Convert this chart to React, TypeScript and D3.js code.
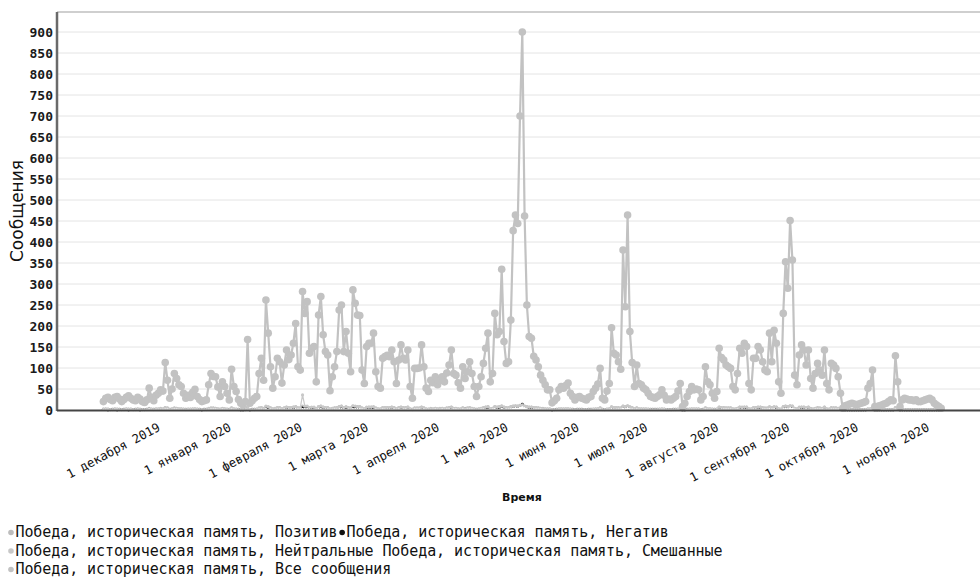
import React from 'react';
import * as d3 from 'd3';

// Daily values, 8 Nov 2019 .. 8 Nov 2020
const allMessages: number[] = [
  // Nov 8-30 2019
  20, 28, 30, 25, 22, 30, 32, 26, 20, 25, 30, 34, 28, 24, 22, 30, 26, 20, 18, 24, 52, 30, 22,
  // Dec
  35, 40, 48, 45, 113, 71, 28, 50, 87, 75, 60, 56, 40, 28, 35, 30, 42, 49, 32, 25, 20, 22, 24, 60, 87, 80, 79, 55, 32, 67, 56,
  // Jan 2020
  40, 24, 97, 56, 44, 25, 16, 12, 20, 168, 16, 22, 28, 32, 87, 123, 71, 262, 183, 103, 52, 79, 123, 115, 64, 107, 143, 120, 131, 159, 206,
  // Feb
  103, 95, 282, 230, 258, 135, 147, 151, 67, 226, 270, 179, 139, 131, 46, 79, 103, 139, 238, 250, 139, 187, 135, 91, 286, 254, 226, 225, 95,
  // Mar
  63, 151, 159, 159, 183, 91, 56, 52, 123, 127, 130, 127, 143, 115, 63, 119, 155, 123, 119, 143, 56, 28, 99, 99, 100, 155, 103, 52, 44, 71, 65,
  // Apr
  79, 60, 70, 79, 67, 88, 107, 143, 87, 83, 65, 52, 103, 75, 91, 115, 87, 56, 32, 56, 79, 111, 147, 183, 67, 87, 230, 179, 187, 335,
  // May
  163, 111, 115, 214, 427, 464, 444, 700, 900, 462, 250, 175, 171, 128, 119, 103, 83, 71, 60, 48, 48, 17, 22, 28, 48, 56, 52, 58, 64, 40, 32,
  // Jun
  24, 30, 32, 28, 26, 24, 30, 32, 44, 52, 62, 99, 28, 24, 45, 63, 196, 135, 131, 115, 97, 381, 246, 464, 187, 113, 56, 107, 63, 60,
  // Jul
  52, 48, 40, 32, 30, 28, 32, 36, 48, 35, 24, 26, 24, 28, 32, 45, 63, 8, 16, 32, 44, 56, 48, 50, 48, 24, 32, 103, 67, 60, 40,
  // Aug
  28, 44, 147, 125, 119, 107, 103, 99, 56, 48, 87, 147, 135, 159, 151, 63, 48, 123, 123, 151, 143, 115, 95, 91, 183, 115, 190, 159, 67, 40, 230,
  // Sep
  353, 290, 451, 357, 83, 60, 131, 155, 143, 107, 143, 75, 52, 87, 111, 95, 83, 143, 63, 48, 111, 107, 99, 79, 40, 4, 10, 12, 14, 16,
  // Oct
  14, 12, 14, 16, 18, 20, 52, 63, 95, 8, 8, 10, 12, 14, 16, 20, 24, 22, 129, 67, 8, 24, 28, 26, 24, 24, 22, 24, 20, 20, 22,
  // Nov 1-8
  24, 26, 28, 24, 16, 12, 8, 4,
];

const positive: number[] = [
  2, 3, 2, 1, 2, 3, 2, 2, 1, 2, 3, 2, 2, 1, 2, 3, 2, 1, 1, 2, 4, 2, 2,
  3, 3, 4, 3, 6, 5, 2, 3, 5, 4, 3, 3, 2, 2, 2, 2, 3, 3, 2, 2, 1, 2, 2, 4, 5, 5, 4, 3, 2, 4, 3,
  2, 2, 5, 3, 2, 2, 1, 1, 1, 6, 1, 2, 2, 2, 5, 6, 4, 8, 7, 5, 3, 4, 6, 6, 3, 5, 7, 6, 6, 7, 8,
  5, 5, 9, 8, 8, 6, 6, 6, 4, 8, 9, 7, 6, 6, 3, 4, 5, 6, 8, 9, 6, 7, 6, 5, 9, 8, 8, 8, 5,
  3, 6, 7, 7, 7, 5, 3, 3, 6, 6, 6, 6, 7, 6, 3, 6, 7, 6, 6, 7, 3, 2, 5, 5, 5, 7, 5, 3, 2, 4, 3,
  4, 3, 4, 4, 3, 5, 6, 7, 4, 4, 3, 3, 5, 4, 5, 6, 4, 3, 2, 3, 4, 6, 7, 8, 3, 4, 8, 7, 8, 9,
  7, 6, 6, 8, 9, 10, 9, 11, 12, 9, 8, 7, 7, 6, 6, 5, 4, 4, 3, 3, 3, 1, 1, 2, 3, 3, 3, 3, 3, 2, 2,
  1, 2, 2, 2, 1, 1, 2, 2, 2, 3, 3, 5, 2, 1, 2, 3, 7, 6, 6, 6, 5, 9, 8, 10, 7, 6, 3, 5, 3, 3,
  3, 3, 2, 2, 2, 2, 2, 2, 3, 2, 1, 1, 1, 2, 2, 2, 3, 0, 1, 2, 2, 3, 3, 3, 3, 1, 2, 5, 3, 3, 2,
  2, 2, 7, 6, 6, 5, 5, 5, 3, 3, 4, 7, 7, 7, 7, 3, 3, 6, 6, 7, 7, 6, 5, 5, 7, 6, 7, 7, 3, 2, 8,
  9, 8, 10, 9, 4, 3, 7, 7, 7, 5, 7, 4, 3, 4, 6, 5, 4, 7, 3, 2, 6, 5, 5, 4, 2, 0, 1, 1, 1, 1,
  1, 1, 1, 1, 1, 1, 3, 3, 5, 0, 0, 1, 1, 1, 1, 1, 1, 1, 6, 3, 0, 1, 1, 1, 1, 1, 1, 1, 1, 1, 1,
  1, 1, 1, 1, 1, 1, 0, 0,
];

const negative: number[] = [
  1, 1, 0, 1, 1, 1, 0, 1, 1, 1, 1, 0, 1, 1, 1, 1, 0, 1, 1, 1, 2, 1, 1,
  1, 1, 1, 1, 3, 2, 1, 1, 2, 2, 1, 1, 1, 1, 1, 1, 1, 1, 1, 1, 0, 1, 1, 1, 2, 2, 2, 1, 1, 1, 1,
  1, 1, 2, 1, 1, 1, 0, 0, 1, 3, 0, 1, 1, 1, 2, 2, 1, 4, 3, 2, 1, 1, 2, 2, 1, 2, 3, 2, 2, 3, 4,
  2, 2, 5, 4, 4, 2, 3, 3, 1, 4, 4, 3, 2, 2, 1, 1, 2, 2, 4, 4, 2, 3, 2, 2, 5, 4, 4, 4, 2,
  1, 3, 3, 3, 4, 2, 1, 1, 2, 2, 2, 2, 3, 2, 1, 2, 3, 2, 2, 3, 1, 1, 2, 2, 2, 3, 2, 1, 1, 1, 1,
  2, 1, 1, 2, 1, 2, 2, 3, 2, 2, 1, 1, 2, 2, 2, 2, 2, 1, 1, 1, 2, 2, 3, 3, 1, 2, 4, 3, 3, 6,
  3, 2, 2, 4, 7, 8, 8, 10, 14, 8, 5, 3, 3, 2, 2, 2, 2, 1, 1, 1, 1, 0, 1, 1, 1, 1, 1, 1, 1, 1, 1,
  1, 1, 1, 1, 1, 1, 1, 1, 1, 1, 1, 2, 1, 1, 1, 1, 4, 3, 3, 2, 2, 6, 4, 8, 3, 2, 1, 2, 1, 1,
  1, 1, 1, 1, 1, 1, 1, 1, 1, 1, 1, 1, 1, 1, 1, 1, 1, 0, 0, 1, 1, 1, 1, 1, 1, 1, 1, 2, 1, 1, 1,
  1, 1, 3, 2, 2, 2, 2, 2, 1, 1, 2, 3, 2, 3, 3, 1, 1, 2, 2, 3, 3, 2, 2, 2, 3, 2, 3, 3, 1, 1, 4,
  6, 5, 8, 6, 2, 1, 2, 3, 3, 2, 3, 1, 1, 2, 2, 2, 2, 3, 1, 1, 2, 2, 2, 2, 1, 0, 0, 0, 0, 0,
  0, 0, 0, 0, 0, 0, 1, 1, 2, 0, 0, 0, 0, 0, 0, 0, 0, 0, 2, 1, 0, 0, 0, 0, 0, 0, 0, 0, 0, 0, 0,
  0, 0, 0, 0, 0, 0, 0, 0,
];

const neutral: number[] = [
  2, 2, 2, 1, 1, 2, 2, 1, 1, 1, 2, 2, 2, 1, 1, 2, 1, 1, 1, 1, 3, 2, 1,
  2, 2, 3, 2, 6, 4, 1, 3, 4, 4, 3, 3, 2, 1, 2, 2, 2, 3, 2, 1, 1, 1, 1, 3, 4, 4, 4, 3, 2, 3, 3,
  2, 1, 5, 3, 2, 1, 1, 1, 1, 7, 1, 1, 1, 2, 4, 6, 3, 9, 8, 5, 3, 4, 6, 5, 3, 5, 7, 6, 6, 7, 8,
  5, 5, 36, 9, 9, 6, 7, 7, 3, 8, 9, 7, 6, 6, 2, 4, 5, 6, 8, 9, 6, 8, 6, 4, 10, 9, 8, 8, 4,
  3, 7, 7, 7, 8, 4, 3, 2, 5, 6, 6, 6, 7, 5, 3, 5, 7, 6, 5, 7, 3, 1, 4, 4, 4, 7, 5, 2, 2, 3, 3,
  4, 3, 3, 4, 3, 4, 5, 7, 4, 4, 3, 2, 5, 3, 4, 5, 4, 3, 1, 3, 4, 5, 7, 8, 3, 4, 8, 7, 8, 10,
  7, 5, 5, 8, 9, 10, 9, 11, 12, 9, 8, 7, 7, 6, 5, 5, 4, 3, 3, 2, 2, 1, 1, 1, 2, 3, 2, 3, 3, 2, 1,
  1, 1, 1, 1, 1, 1, 1, 1, 2, 2, 3, 5, 1, 1, 2, 3, 8, 6, 6, 5, 4, 9, 8, 10, 8, 5, 3, 5, 3, 3,
  2, 2, 2, 1, 1, 1, 1, 2, 2, 2, 1, 1, 1, 1, 1, 2, 3, 0, 1, 1, 2, 3, 2, 2, 2, 1, 1, 5, 3, 3, 2,
  1, 2, 7, 6, 5, 5, 5, 5, 3, 2, 4, 7, 6, 7, 7, 3, 2, 6, 6, 7, 7, 5, 4, 4, 8, 5, 8, 7, 3, 2, 8,
  9, 8, 10, 9, 4, 3, 6, 7, 7, 5, 7, 3, 2, 4, 5, 4, 4, 7, 3, 2, 5, 5, 5, 4, 2, 0, 0, 1, 1, 1,
  1, 1, 1, 1, 1, 1, 2, 3, 4, 0, 0, 0, 1, 1, 1, 1, 1, 1, 6, 3, 0, 1, 1, 1, 1, 1, 1, 1, 1, 1, 1,
  1, 1, 1, 1, 1, 1, 0, 0,
];

const mixed: number[] = [
  0, 0, 0, 0, 0, 0, 0, 0, 0, 0, 0, 0, 0, 0, 0, 0, 0, 0, 0, 0, 1, 0, 0,
  0, 0, 0, 0, 1, 1, 0, 0, 1, 1, 0, 0, 0, 0, 0, 0, 0, 0, 0, 0, 0, 0, 0, 0, 1, 1, 1, 0, 0, 1, 0,
  0, 0, 1, 0, 0, 0, 0, 0, 0, 1, 0, 0, 0, 0, 1, 1, 0, 2, 1, 1, 0, 0, 1, 1, 0, 1, 1, 1, 1, 1, 2,
  1, 1, 2, 2, 2, 1, 1, 1, 0, 2, 2, 1, 1, 1, 0, 0, 1, 1, 2, 2, 1, 1, 1, 0, 2, 2, 2, 2, 1,
  0, 1, 1, 1, 1, 1, 0, 0, 1, 1, 1, 1, 1, 1, 0, 1, 1, 1, 1, 1, 0, 0, 1, 1, 1, 1, 1, 0, 0, 0, 0,
  1, 0, 0, 1, 0, 1, 1, 1, 1, 1, 0, 0, 1, 0, 1, 1, 1, 0, 0, 0, 1, 1, 1, 1, 0, 1, 2, 1, 1, 3,
  1, 1, 1, 2, 3, 4, 3, 5, 6, 4, 2, 1, 1, 1, 1, 1, 1, 0, 0, 0, 0, 0, 0, 0, 0, 0, 0, 0, 0, 0, 0,
  0, 0, 0, 0, 0, 0, 0, 0, 0, 0, 0, 1, 0, 0, 0, 0, 2, 1, 1, 1, 1, 3, 2, 4, 2, 1, 0, 1, 0, 0,
  0, 0, 0, 0, 0, 0, 0, 0, 0, 0, 0, 0, 0, 0, 0, 0, 0, 0, 0, 0, 0, 0, 0, 0, 0, 0, 0, 1, 0, 0, 0,
  0, 0, 1, 1, 1, 1, 1, 1, 0, 0, 1, 1, 1, 1, 1, 0, 0, 1, 1, 1, 1, 1, 1, 1, 2, 1, 2, 1, 0, 0, 2,
  3, 2, 4, 3, 1, 0, 1, 1, 1, 1, 1, 0, 0, 1, 1, 1, 1, 1, 0, 0, 1, 1, 1, 1, 0, 0, 0, 0, 0, 0,
  0, 0, 0, 0, 0, 0, 0, 0, 1, 0, 0, 0, 0, 0, 0, 0, 0, 0, 1, 0, 0, 0, 0, 0, 0, 0, 0, 0, 0, 0, 0,
  0, 0, 0, 0, 0, 0, 0, 0,
];

const monthTickLabels: string[] = [
  '1 декабря 2019', '1 января 2020', '1 февраля 2020', '1 марта 2020',
  '1 апреля 2020', '1 мая 2020', '1 июня 2020', '1 июля 2020',
  '1 августа 2020', '1 сентября 2020', '1 октября 2020', '1 ноября 2020',
];

const yTickValues: number[] = [0, 50, 100, 150, 200, 250, 300, 350, 400, 450, 500, 550, 600, 650, 700, 750, 800, 850, 900];

const seriesNames: string[] = [
  'Победа, историческая память, Позитив',
  'Победа, историческая память, Негатив',
  'Победа, историческая память, Нейтральные',
  'Победа, историческая память, Смешанные',
  'Победа, историческая память, Все сообщения',
];

const START = new Date(2019, 10, 8);
const FIRST_TICK = new Date(2019, 11, 1);

const W = 980, H = 580;
const PL = 57, PR = 980, PT = 12, PB = 410;
const MONO = '"DejaVu Sans Mono", monospace';
const SANS = '"DejaVu Sans", sans-serif';

export default function App() {
  const dates = allMessages.map((_, i) => d3.timeDay.offset(START, i));
  const x = d3.scaleTime().domain([dates[0], dates[dates.length - 1]]).range([103.4, 941.2]);
  const y = d3.scaleLinear().domain([0, 900]).range([PB, 32]);
  const tickDates = monthTickLabels.map((_, i) => d3.timeMonth.offset(FIRST_TICK, i));

  const lineGen = d3.line<number>().x((_, i) => x(dates[i])).y((d) => y(d));

  const series = [
    { name: seriesNames[0], values: positive, color: '#bdbdbd', r: 1.6, w: 1.2 },
    { name: seriesNames[1], values: negative, color: '#111111', r: 1.4, w: 1.2 },
    { name: seriesNames[2], values: neutral, color: '#c8c8c8', r: 1.6, w: 1.2 },
    { name: seriesNames[3], values: mixed, color: '#ffffff', r: 1.2, w: 0.8 },
    { name: seriesNames[4], values: allMessages, color: '#c2c2c2', r: 3.8, w: 2.2 },
  ];

  const legendFont = 15;
  const charW = 8.95;
  const legendRows = [
    [{ c: series[0].color, t: seriesNames[0] }, { c: series[1].color, t: seriesNames[1] }],
    [{ c: series[2].color, t: seriesNames[2] }, { c: series[3].color, t: seriesNames[3] }],
    [{ c: series[4].color, t: seriesNames[4] }],
  ];
  const legendBase = [537, 555.5, 574];

  return (
    <svg width={W} height={H} style={{ position: 'absolute', left: 0, top: 0, background: '#fff' }}>
      {/* grid */}
      {yTickValues.filter((v) => v > 0).map((v) => (
        <line key={'g' + v} x1={PL} x2={PR} y1={y(v)} y2={y(v)} stroke="#e4e4e4" strokeWidth={1} />
      ))}
      <line x1={PL} x2={PR} y1={PT} y2={PT} stroke="#cfcfcf" strokeWidth={2} />

      {/* series */}
      {series.map((s, si) => (
        <g key={'s' + si}>
          <path d={lineGen(s.values) || ''} fill="none" stroke={s.color} strokeWidth={s.w} strokeLinejoin="round" />
          {s.values.map((v, i) => (
            <circle key={i} cx={x(dates[i])} cy={y(v)} r={s.r} fill={s.color} />
          ))}
        </g>
      ))}

      {/* axes */}
      <line x1={PL} x2={PL} y1={PT} y2={PB + 1} stroke="#6a6a6a" strokeWidth={2.5} />
      <line x1={PL} x2={PR} y1={PB + 0.5} y2={PB + 0.5} stroke="#444" strokeWidth={2} />

      {yTickValues.map((v) => (
        <text key={'yt' + v} x={53} y={y(v)} dy="0.36em" textAnchor="end" fontFamily={MONO} fontSize={13} fontWeight="bold" fill="#1a1a1a">
          {v}
        </text>
      ))}

      {tickDates.map((d, i) => {
        const tx = x(d) + 5;
        const ty = 430;
        return (
          <text key={'xt' + i} x={tx} y={ty} transform={`rotate(-28 ${tx} ${ty})`} textAnchor="end" fontFamily={MONO} fontSize={12.3} fill="#111">
            {monthTickLabels[i]}
          </text>
        );
      })}

      <text x={17} y={211} transform="rotate(-90 17 211)" textAnchor="middle" dominantBaseline="central" fontFamily={SANS} fontSize={17} fill="#111">
        Сообщения
      </text>
      <text x={522} y={501} textAnchor="middle" fontFamily={SANS} fontSize={11} fontWeight="bold" fill="#111">
        Время
      </text>

      {/* legend */}
      {legendRows.map((row, ri) => {
        const by = legendBase[ri];
        let cx = 6.5;
        return (
          <g key={'lr' + ri}>
            {row.map((item, ii) => {
              const mx = cx + charW / 2;
              const tx = cx + charW;
              const len = item.t.length * charW;
              cx = tx + len;
              return (
                <g key={ii}>
                  <circle cx={mx} cy={by - 4.5} r={2.8} fill={item.c} />
                  <text x={tx} y={by} fontFamily={MONO} fontSize={legendFont} textLength={len} lengthAdjust="spacing" fill="#111">{item.t}</text>
                </g>
              );
            })}
          </g>
        );
      })}
    </svg>
  );
}
